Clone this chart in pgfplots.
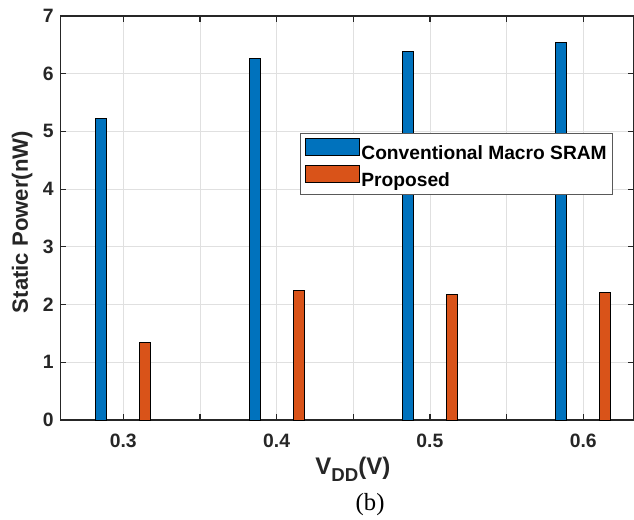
\documentclass[border=0pt]{standalone}
\usepackage{fontspec}
\setmainfont{Liberation Sans}
\newfontfamily\capfont{Liberation Serif}
\usepackage{pgfplots}
\pgfplotsset{compat=1.18}
\usetikzlibrary{calc}

\definecolor{mblue}{RGB}{0,114,189}
\definecolor{morange}{RGB}{217,83,25}
\definecolor{axgray}{RGB}{38,38,38}

\begin{document}
\begin{tikzpicture}
\begin{axis}[
    scale only axis, width=430.3pt, height=303pt,
    xmin=0.2589, xmax=0.6331, ymin=0, ymax=7,
    xtick={0.3,0.35,0.4,0.45,0.5,0.55,0.6},
    xticklabels={0.3,,0.4,,0.5,,0.6},
    ytick={0,1,2,3,4,5,6,7},
    grid=major, major grid style={black!12, line width=0.6pt},
    axis line style={axgray, line width=0.9pt},
    tick style={axgray, line width=0.9pt},
    tick align=inside, major tick length=4.5pt,
    clip=false,
    /pgf/number format/assume math mode=true,
    ticklabel style={font=\fontsize{14.5}{16}\selectfont\bfseries, text=axgray},
    xticklabel style={yshift=-7pt},
    yticklabel style={xshift=-1.5pt},
    xlabel={V\raisebox{-0.55ex}{\fontsize{14}{15}\selectfont DD}(V)},
    xlabel style={font=\fontsize{18}{20}\selectfont\bfseries, text=axgray,
        at={(rel axis cs:0.51,0)}, anchor=base, yshift=-41pt},
    ylabel={Static Power(nW)},
    ylabel style={font=\fontsize{16.6}{18}\selectfont\bfseries, text=axgray,
        at={(rel axis cs:0,0.49)}, anchor=center, yshift=28.5pt},
    legend style={at={(0.418,0.7097)}, anchor=north west,
        draw=black!65, line width=0.75pt, fill=white,
        inner xsep=3pt, inner ysep=3pt, row sep=1.25pt,
        nodes={inner sep=1.5pt},
        font=\fontsize{14.4}{16}\selectfont\bfseries},
    legend cell align=left,
]
\addplot[ybar, bar width=0.0072, bar shift=-0.0144, fill=mblue, draw=black, line width=0.6pt,
    legend image code/.code={\draw[fill=mblue, draw=black, line width=0.6pt] (0pt,-1.25pt) rectangle (40.5pt,11.5pt);}]
    coordinates {(0.3,5.22) (0.4,6.27) (0.5,6.38) (0.6,6.54)};
\addlegendentry{Conventional Macro SRAM}
\addplot[ybar, bar width=0.0072, bar shift=0.0144, fill=morange, draw=black, line width=0.6pt,
    legend image code/.code={\draw[fill=morange, draw=black, line width=0.6pt] (0pt,-1.25pt) rectangle (40.5pt,11.5pt);}]
    coordinates {(0.3,1.35) (0.4,2.25) (0.5,2.18) (0.6,2.21)};
\addlegendentry{Proposed}
\node[font=\capfont\fontsize{18.5}{20}\selectfont, anchor=center] at (rel axis cs:0.54,0) [yshift=-63.75pt] {(b)};
\end{axis}
\pgfresetboundingbox
\path ($(current axis.south west)+(-45.2pt,-75pt)$) rectangle ($(current axis.north east)+(0pt,12pt)$);
\end{tikzpicture}
\end{document}
